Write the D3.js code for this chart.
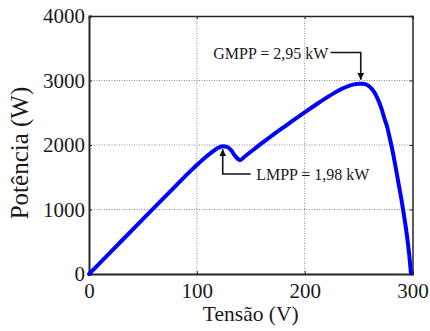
<!DOCTYPE html>
<html>
<head>
<meta charset="utf-8">
<script src="https://cdn.jsdelivr.net/npm/d3@7"></script>
<style>
  html, body { margin: 0; padding: 0; background: #fff; font-family: 'Liberation Serif', serif; }
  svg { display: block; }
</style>
</head>
<body>
<svg id="chart" width="430" height="331" font-family="Liberation Serif"></svg>
<script>
// P-V curve of a partially shaded PV array (two local maxima)
const voltage = [0, 20, 40, 60, 80, 95, 102, 108, 114, 119, 124, 128, 132, 135, 138, 140,
  145, 150, 155, 160, 170, 180, 190, 200, 210, 220, 228, 235, 241, 246, 250, 254, 258, 262, 265,
  268, 271, 274, 277, 279, 281, 284, 287, 290, 292, 294, 296, 297.5, 298.5];
const power = [0, 340, 680, 1020, 1360, 1610, 1720, 1810, 1890, 1950, 1980, 1970, 1915, 1840, 1785, 1765,
  1830, 1895, 1960, 2025, 2150, 2270, 2390, 2505, 2620, 2730, 2812, 2875, 2918, 2940, 2950, 2948, 2930, 2875, 2805,
  2705, 2575, 2410, 2250, 2100, 1950, 1690, 1410, 1130, 920, 700, 440, 210, 20];

const xTicks = [0, 100, 200, 300];
const yTicks = [0, 1000, 2000, 3000, 4000];

const xLabel = "Tensão (V)";
const yLabel = "Potência (W)";

const gmppLabel = "GMPP = 2,95 kW";
const gmppPoint = { v: 252, p: 2950 };
const lmppLabel = "LMPP = 1,98 kW";
const lmppPoint = { v: 124, p: 1980 };

const W = 430, H = 331;
const margin = { top: 16, right: 17.5, bottom: 57, left: 89 };
const svg = d3.select("#chart");
const serif = "'Liberation Serif', 'Times New Roman', 'DejaVu Serif', serif";

const x = d3.scaleLinear().domain([0, 300]).range([margin.left, W - margin.right]);
const y = d3.scaleLinear().domain([0, 4000]).range([H - margin.bottom, margin.top]);

const x0 = x.range()[0], x1 = x.range()[1], y0 = y.range()[0], y1 = y.range()[1];

// dotted grid
const grid = svg.append("g").attr("stroke", "#8c8c8c").attr("stroke-width", 1).attr("stroke-dasharray", "1,1.5");
grid.selectAll("line.v").data(xTicks.filter(d => d > 0 && d < 300)).join("line")
  .attr("x1", d => x(d)).attr("x2", d => x(d)).attr("y1", y0).attr("y2", y1);
grid.selectAll("line.h").data(yTicks.filter(d => d > 0 && d < 4000)).join("line")
  .attr("x1", x0).attr("x2", x1).attr("y1", d => y(d)).attr("y2", d => y(d));

// axes with inward ticks
const fs = 21;
const axBottom = svg.append("g").attr("transform", `translate(0,${y0})`)
  .call(d3.axisBottom(x).tickValues(xTicks).tickSize(-3).tickPadding(9).tickFormat(d3.format("d")));
const axLeft = svg.append("g").attr("transform", `translate(${x0},0)`)
  .call(d3.axisLeft(y).tickValues(yTicks).tickSize(-3).tickPadding(4).tickFormat(d3.format("d")));
const axTop = svg.append("g").attr("transform", `translate(0,${y1})`)
  .call(d3.axisTop(x).tickValues(xTicks).tickSize(-3).tickFormat(""));
const axRight = svg.append("g").attr("transform", `translate(${x1},0)`)
  .call(d3.axisRight(y).tickValues(yTicks).tickSize(-3).tickFormat(""));

[axBottom, axLeft, axTop, axRight].forEach(g => {
  g.attr("font-family", null).attr("font-size", null);
  g.selectAll("text").attr("fill", "#1a1a1a").style("font-size", fs + "px");
  g.selectAll(".tick line").attr("stroke", "#262626").attr("stroke-width", 1);
});
axTop.select(".domain").attr("stroke", "#262626").attr("stroke-width", 1.5);
axRight.select(".domain").attr("stroke", "#262626").attr("stroke-width", 1.5);
axBottom.select(".domain").attr("stroke", "#262626").attr("stroke-width", 2);
axLeft.select(".domain").attr("stroke", "#262626").attr("stroke-width", 2);
axLeft.selectAll("text").attr("dy", "0.33em");

// P-V curve
const pts = voltage.map((v, i) => [v, power[i]]);
svg.append("path")
  .datum(pts)
  .attr("fill", "none")
  .attr("stroke", "#0000ff")
  .attr("stroke-width", 4)
  .attr("stroke-linejoin", "round")
  .attr("stroke-linecap", "round")
  .attr("d", d3.line().x(d => x(d[0])).y(d => y(d[1])).curve(d3.curveMonotoneX));

// axis titles
svg.append("text")
  .attr("x", (x0 + x1) / 2).attr("y", 321)
  .attr("text-anchor", "middle")
  .style("font-size", "21.5px").attr("fill", "#1a1a1a")
  .text(xLabel);
svg.append("text")
  .attr("transform", `translate(28,${153}) rotate(-90)`)
  .attr("text-anchor", "middle")
  .style("font-size", "25px").attr("fill", "#1a1a1a")
  .text(yLabel);

// annotations with arrows
const defs = svg.append("defs");
defs.append("marker")
  .attr("id", "arrow").attr("viewBox", "0 0 10 10")
  .attr("refX", 10).attr("refY", 5)
  .attr("markerWidth", 7).attr("markerHeight", 7)
  .attr("markerUnits", "userSpaceOnUse")
  .attr("orient", "auto")
  .append("path").attr("d", "M0,0 L10,5 L0,10 Z").attr("fill", "#111");

const ann = svg.append("g").attr("stroke", "#111").attr("stroke-width", 1.6).attr("fill", "none");

// GMPP: label left, leader goes right then down to the peak
const gx = x(gmppPoint.v), gy = y(gmppPoint.p);
const gLineY = 52.5;
ann.append("path")
  .attr("d", `M${x(224)},${gLineY} H${gx} V${gy - 4}`)
  .attr("marker-end", "url(#arrow)");
svg.append("text")
  .attr("x", x(222)).attr("y", 59)
  .attr("text-anchor", "end")
  .style("font-size", "16px").attr("fill", "#1a1a1a")
  .text(gmppLabel);

// LMPP: leader goes from label left then up to the local peak
const lx = x(lmppPoint.v), ly = y(lmppPoint.p);
const lLineY = 174;
ann.append("path")
  .attr("d", `M${x(150)},${lLineY} H${lx} V${ly + 3}`)
  .attr("marker-end", "url(#arrow)");
svg.append("text")
  .attr("x", x(155)).attr("y", 180)
  .attr("text-anchor", "start")
  .style("font-size", "16px").attr("fill", "#1a1a1a")
  .text(lmppLabel);

// serif face on every label
svg.selectAll("text").style("font-family", serif);
</script>
</body>
</html>
